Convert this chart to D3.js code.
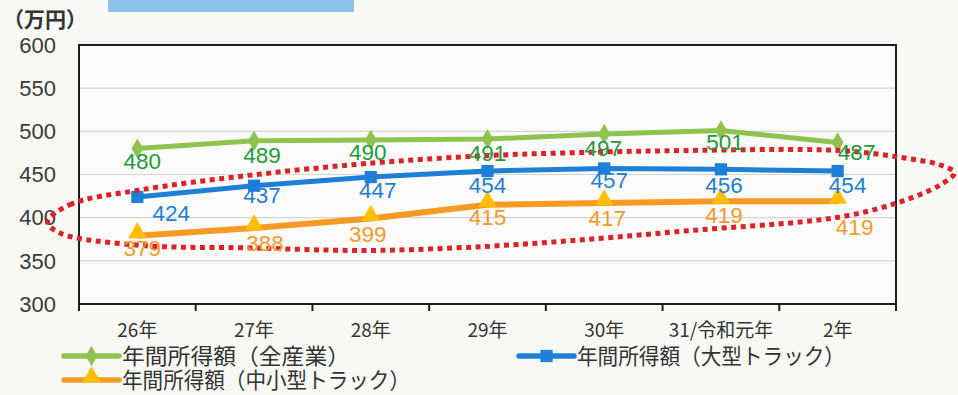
<!DOCTYPE html>
<html>
<head>
<meta charset="utf-8">
<script src="https://cdn.jsdelivr.net/npm/d3@7"></script>
<style>
  html, body { margin: 0; padding: 0; background: #f8f8f4; }
  svg { display: block; }
</style>
</head>
<body>
<svg id="chart" width="958" height="395"></svg>
<script>
// 年度
const categories = ["26年", "27年", "28年", "29年", "30年", "31/令和元年", "2年"];
// 年間所得額（万円）
const allIndustries = [480, 489, 490, 491, 497, 501, 487];
const largeTruck = [424, 437, 447, 454, 457, 456, 454];
const smallTruck = [379, 388, 399, 415, 417, 419, 419];
const yTicks = [300, 350, 400, 450, 500, 550, 600];
const seriesNames = ["年間所得額（全産業）", "年間所得額（大型トラック）", "年間所得額（中小型トラック）"];

// highlight outline around the two truck series, in (category index, 万円)
const highlightIdx = [-0.77, -0.58, 0.02, 0.96, 1.99, 3.02, 3.96, 4.82, 5.68, 6.11, 6.53, 6.88, 7.0,
                      6.88, 6.53, 6.11, 5.68, 4.82, 3.96, 3.02, 1.99, 0.96, 0.02, -0.66];
const highlightVal = [395, 415, 432, 449, 463, 472, 476, 478, 479, 477, 470, 461, 452,
                      438, 418, 403, 395, 386, 376, 367, 362, 365, 368, 382];

const svg = d3.select("#chart");
const plot = { left: 79, right: 896, top: 45, bottom: 304 };

const x = d3.scaleBand().domain(categories).range([plot.left, plot.right]).padding(0);
const y = d3.scaleLinear().domain([300, 600]).range([plot.bottom, plot.top]);
const cx = c => x(c) + x.bandwidth() / 2;
const ix = i => x(categories[0]) + x.bandwidth() * (i + 0.5);

// header bar
svg.append("rect").attr("x", 108).attr("y", 0).attr("width", 246).attr("height", 12)
  .attr("fill", "#8dc1ec");

// plot background
svg.append("rect").attr("x", plot.left).attr("y", plot.top)
  .attr("width", plot.right - plot.left).attr("height", plot.bottom - plot.top)
  .attr("fill", "#fbfbf9");

// gridlines
svg.append("g").selectAll("line").data(yTicks.slice(1, -1)).join("line")
  .attr("x1", plot.left).attr("x2", plot.right)
  .attr("y1", d => y(d)).attr("y2", d => y(d))
  .attr("stroke", "#d4d4d0").attr("stroke-width", 1.2);

// y axis labels
svg.append("g").selectAll("text").data(yTicks).join("text")
  .attr("x", 56).attr("y", d => y(d)).attr("dy", "0.35em")
  .attr("text-anchor", "end")
  .attr("font-family", "Liberation Sans, Arial, sans-serif")
  .attr("font-size", 22).attr("fill", "#3a3a3a")
  .text(d => d);

svg.append("text").attr("x", 3).attr("y", 27)
  .attr("font-family", "Noto Sans CJK JP, sans-serif")
  .attr("font-size", 21).attr("font-weight", 700).attr("fill", "#333")
  .text("（万円）");

// frame
svg.append("rect").attr("x", plot.left).attr("y", plot.top)
  .attr("width", plot.right - plot.left).attr("height", plot.bottom - plot.top)
  .attr("fill", "none").attr("stroke", "#1e1e1e").attr("stroke-width", 2);

// x axis: ticks at category boundaries, labels centred in each band
const xAxis = d3.axisBottom(x).tickSize(0).tickPadding(0);
const xg = svg.append("g").attr("transform", `translate(0,${plot.bottom})`).call(xAxis);
xg.select(".domain").remove();
xg.selectAll(".tick text")
  .attr("y", 33).attr("dy", null)
  .attr("font-family", "Noto Sans CJK JP, sans-serif")
  .attr("font-size", 19).attr("fill", "#333");
const bounds = categories.map(c => x(c)).concat([plot.right]);
svg.append("g").selectAll("line").data(bounds).join("line")
  .attr("x1", d => d).attr("x2", d => d)
  .attr("y1", plot.bottom).attr("y2", plot.bottom + 7)
  .attr("stroke", "#1e1e1e").attr("stroke-width", 2);

// series
const series = [
  { name: seriesNames[0], values: allIndustries, line: "#8fc24e", marker: "diamond", mfill: "#8fc24e", label: "#1f9a3c", width: 5,
    offs: [[5, 13], [8, 14], [-3, 12], [0, 14], [-1, 14], [4, 12], [19, 10]] },
  { name: seriesNames[1], values: largeTruck, line: "#1e7fd6", marker: "square", mfill: "#1e7fd6", label: "#1f7fd4", width: 5,
    offs: [[34, 16], [8, 9], [7, 13], [0, 14], [5, 12], [3, 16], [10, 14]] },
  { name: seriesNames[2], values: smallTruck, line: "#f59a22", marker: "triangle", mfill: "#ffbf00", label: "#f39a2a", width: 6,
    offs: [[5, 12], [11, 15], [-3, 16], [0, 12], [3, 15], [3, 14], [17, 26]] }
];

const symbolFor = m => m === "diamond" ? d3.symbol(d3.symbolDiamond, 120)
  : m === "square" ? d3.symbol(d3.symbolSquare, 150)
  : d3.symbol(d3.symbolTriangle, 150);

const lineGen = d3.line().x((d, i) => cx(categories[i])).y(d => y(d));

series.forEach(s => {
  svg.append("path").datum(s.values)
    .attr("d", lineGen).attr("fill", "none")
    .attr("stroke", s.line).attr("stroke-width", s.width)
    .attr("stroke-linejoin", "round");
  svg.append("g").selectAll("path").data(s.values).join("path")
    .attr("d", symbolFor(s.marker)())
    .attr("transform", (d, i) => `translate(${cx(categories[i])},${y(d) - (s.marker === "triangle" ? 3 : 0)})`)
    .attr("fill", s.mfill);
});

// highlight outline
const outline = highlightIdx.map((v, i) => [ix(v), y(highlightVal[i])]);
svg.append("path")
  .attr("d", d3.line().curve(d3.curveCatmullRomClosed.alpha(0.5))(outline))
  .attr("fill", "none").attr("stroke", "#dc2229").attr("stroke-width", 5)
  .attr("stroke-dasharray", "5,4.5");

// value labels
series.forEach(s => {
  svg.append("g").selectAll("text").data(s.values).join("text")
    .attr("x", (d, i) => cx(categories[i]) + s.offs[i][0])
    .attr("y", (d, i) => y(d) + s.offs[i][1])
    .attr("dy", "0.35em").attr("text-anchor", "middle")
    .attr("font-family", "Liberation Sans, Arial, sans-serif")
    .attr("font-size", 22.5).attr("fill", s.label)
    .text(d => d);
});

// legend
const legend = [
  { s: series[0], x: 64, y: 356, w: 228 },
  { s: series[1], x: 519, y: 356, w: 268 },
  { s: series[2], x: 64, y: 380, w: 288 }
];
legend.forEach(l => {
  const g = svg.append("g").attr("transform", `translate(${l.x},${l.y})`);
  g.append("line").attr("x1", 0).attr("x2", 55).attr("y1", 0).attr("y2", 0)
    .attr("stroke", l.s.line).attr("stroke-width", 5.5).attr("stroke-linecap", "round");
  g.append("path").attr("d", symbolFor(l.s.marker)())
    .attr("transform", `translate(27.5,${l.s.marker === "triangle" ? -3 : 0})`)
    .attr("fill", l.s.mfill);
  g.append("text").attr("x", 58).attr("y", 1).attr("dy", "0.34em")
    .attr("font-family", "Noto Sans CJK JP, sans-serif")
    .attr("font-size", 22).attr("fill", "#333")
    .attr("textLength", l.w).attr("lengthAdjust", "spacingAndGlyphs")
    .text(l.s.name);
});
</script>
</body>
</html>
